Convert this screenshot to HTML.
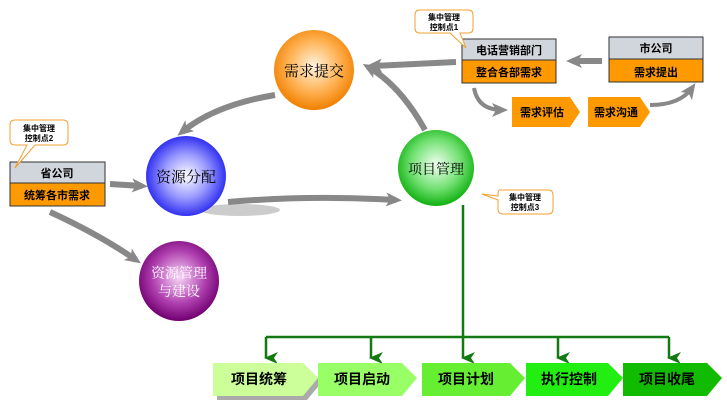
<!DOCTYPE html>
<html><head><meta charset="utf-8"><style>
body{margin:0;background:#fff;}
svg{display:block;font-family:"Liberation Sans","Noto Sans CJK SC",sans-serif;}
.sf{font-family:"Liberation Serif","Noto Serif CJK SC",serif;}
</style></head><body>
<svg width="727" height="401" viewBox="0 0 727 401" xmlns="http://www.w3.org/2000/svg">
<defs>
<radialGradient id="go" cx="50%" cy="45%" r="55%"><stop offset="0" stop-color="#fff4e0"/><stop offset="0.6" stop-color="#ffb050"/><stop offset="1" stop-color="#f08000"/></radialGradient>
<radialGradient id="gb" cx="50%" cy="50%" r="55%"><stop offset="0" stop-color="#ffffff"/><stop offset="0.5" stop-color="#9a9aff"/><stop offset="1" stop-color="#1a1aee"/></radialGradient>
<radialGradient id="gg" cx="50%" cy="45%" r="55%"><stop offset="0" stop-color="#f0fff0"/><stop offset="0.6" stop-color="#70e070"/><stop offset="1" stop-color="#10b010"/></radialGradient>
<radialGradient id="gp" cx="50%" cy="45%" r="55%"><stop offset="0" stop-color="#f8d8f8"/><stop offset="0.6" stop-color="#b040b0"/><stop offset="1" stop-color="#700070"/></radialGradient>
<marker id="ah" markerWidth="16" markerHeight="14" refX="10" refY="7" orient="auto" markerUnits="userSpaceOnUse"><path d="M0,0 L16,7 L0,14 L4,7 z" fill="#888"/></marker>
<marker id="gah" markerWidth="12" markerHeight="14" refX="6" refY="12" orient="auto" markerUnits="userSpaceOnUse"><path d="M0,0 L6,4 L12,0 L6,14 z" fill="#137a13"/></marker>
</defs>
<ellipse cx="240" cy="210" rx="40" ry="6" fill="#ccc"/>
<g stroke="#888" stroke-width="6" fill="none">
<path d="M275,95 Q215,105 182,132" marker-end="url(#ah)"/>
<path d="M425,130 Q400,85 368,67" marker-end="url(#ah)"/>
<path d="M228,202 Q310,195 396,200" marker-end="url(#ah)"/>
<path d="M456,62 L372,66" marker-end="url(#ah)"/>
<path d="M602,61 L572,61" marker-end="url(#ah)"/>
<path d="M110,184 L142,186" marker-end="url(#ah)"/>
<path d="M50,212 Q100,235 136,260" marker-end="url(#ah)"/>
<path d="M474,88 Q478,110 502,110" stroke-width="4" marker-end="url(#ah)"/>
<path d="M650,105 Q680,105 692,88" stroke-width="4" marker-end="url(#ah)"/>
</g>
<circle cx="314" cy="70" r="40" fill="url(#go)"/>
<text class="sf" x="314" y="76" font-size="15" text-anchor="middle">需求提交</text>
<circle cx="186" cy="176" r="40" fill="url(#gb)"/>
<text class="sf" x="186" y="182" font-size="15" text-anchor="middle">资源分配</text>
<circle cx="436" cy="168" r="38" fill="url(#gg)"/>
<text class="sf" x="436" y="174" font-size="14" text-anchor="middle">项目管理</text>
<circle cx="179" cy="281" r="40" fill="url(#gp)"/>
<text class="sf" x="179" y="278" font-size="14" text-anchor="middle" fill="#fff">资源管理</text>
<text class="sf" x="179" y="296" font-size="14" text-anchor="middle" fill="#fff">与建设</text>
<g font-size="11" text-anchor="middle" font-weight="bold">
<rect x="462" y="39" width="94" height="44" fill="#f90" stroke="#333"/>
<rect x="462" y="39" width="94" height="21" fill="#d0d6dc" stroke="#333"/>
<text x="509" y="54">电话营销部门</text><text x="509" y="76">整合各部需求</text>
<rect x="609" y="37" width="94" height="45" fill="#f90" stroke="#333"/>
<rect x="609" y="37" width="94" height="22" fill="#d0d6dc" stroke="#333"/>
<text x="656" y="52">市公司</text><text x="656" y="76">需求提出</text>
<rect x="10" y="162" width="95" height="44" fill="#f90" stroke="#333"/>
<rect x="10" y="162" width="95" height="21" fill="#d0d6dc" stroke="#333"/>
<text x="57" y="177">省公司</text><text x="57" y="199">统筹各市需求</text>
<path d="M512,97 H570 L580,112 L570,127 H512 Z" fill="#f90"/>
<text x="542" y="116">需求评估</text>
<path d="M588,97 H640 L650,112 L640,127 H588 Z" fill="#f90"/>
<text x="616" y="116">需求沟通</text>
</g>
<g fill="#fff" stroke="#f0a030">
<path d="M420,10 H468 Q473,10 473,15 V28 Q473,33 468,33 H460 L466,48 L450,33 H420 Q415,33 415,28 V15 Q415,10 420,10 Z"/>
<path d="M15,120 H63 Q68,120 68,125 V140 Q68,145 63,145 H35 L15,168 L27,145 H15 Q10,145 10,140 V125 Q10,120 15,120 Z"/>
<path d="M500,190 H548 Q553,190 553,195 V209 Q553,214 548,214 H503 Q498,214 498,209 V200 L482,194 L498,196 V195 Q498,190 500,190 Z"/>
</g>
<g font-size="8" font-weight="bold" text-anchor="middle">
<text x="444" y="20">集中管理</text><text x="444" y="30">控制点1</text>
<text x="39" y="131">集中管理</text><text x="39" y="141">控制点2</text>
<text x="525" y="200">集中管理</text><text x="525" y="210">控制点3</text>
</g>
<g stroke="#137a13" stroke-width="2.5" fill="none">
<path d="M463,205 V337"/>
<path d="M266,337 H669"/>
<path d="M266,337 V358" marker-end="url(#gah)"/>
<path d="M371,337 V358" marker-end="url(#gah)"/>
<path d="M463,337 V358" marker-end="url(#gah)"/>
<path d="M558,337 V358" marker-end="url(#gah)"/>
<path d="M669,337 V358" marker-end="url(#gah)"/>
</g>
<g font-size="14" font-weight="bold" text-anchor="middle">
<path d="M215,365 H305 L320,380 L305,398 H215 Z" fill="#aaa" transform="translate(2,2)"/>
<path d="M213,363 H303 L318,378 L303,396 H213 Z" fill="#ccff99"/>
<text x="259" y="384">项目统筹</text>
<path d="M318,363 H402 L417,378 L402,396 H318 Z" fill="#99ff66"/>
<text x="362" y="384">项目启动</text>
<path d="M422,363 H510 L525,378 L510,396 H422 Z" fill="#66ee33"/>
<text x="466" y="384">项目计划</text>
<path d="M526,363 H608 L623,378 L608,396 H526 Z" fill="#22ee11"/>
<text x="569" y="384">执行控制</text>
<path d="M623,363 H707 L722,378 L707,396 H623 Z" fill="#11bb00"/>
<text x="667" y="384">项目收尾</text>
</g>
</svg>
</body></html>
